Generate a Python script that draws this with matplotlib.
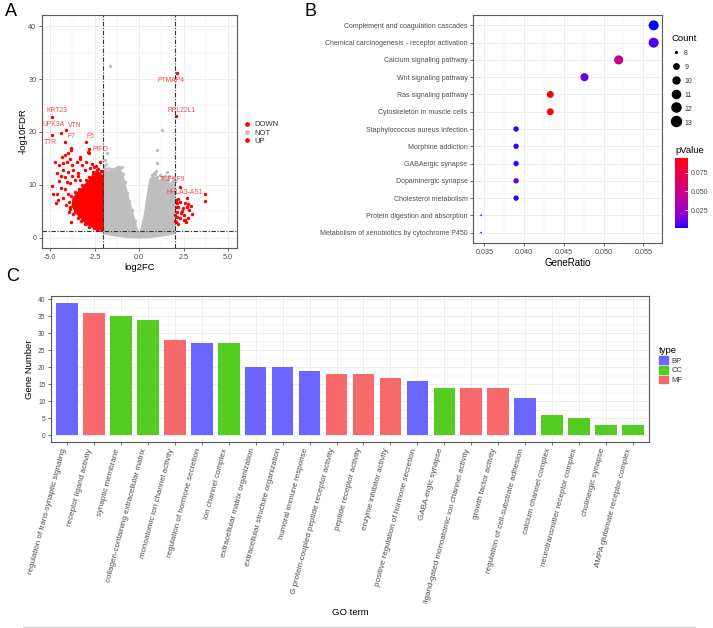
import numpy as np
import matplotlib
matplotlib.use('Agg')
import matplotlib.pyplot as plt
from matplotlib.colors import ListedColormap, Normalize
from matplotlib.lines import Line2D
from matplotlib.patches import Patch
import matplotlib as mpl

plt.rcParams['font.family'] = ['Liberation Sans', 'DejaVu Sans']

# ---------------- Panel A data (volcano) ----------------
down_x = [-4.72, -4.34, -4.16, -4.48, -4.25, -4.06, -3.88, -3.78, -3.5, -3.31, -3.22, -3.69, -3.97, -4.25,
          -4.62, -3.41, -3.03, -2.75, -2.57, -4.90, -4.81, -4.62, -4.40, -4.16, -4.53, -4.25, -3.88, -4.06,
          -4.48, -3.78, -3.60, -3.31, -4.66, -3.88, -3.92, -3.84, -3.60, -3.5, -3.60, -3.35, -3.31, -3.13,
          -2.94, -2.75, -3.13, -2.94, -2.75, -2.47, -2.29, -4.16, -4.38, -3.84, -3.84, -2.83, -3.31, -2.51,
          -2.30, -2.15, -2.85, -4.0,
          -2.1, -2.35, -2.6, -2.8, -3.0, -3.2, -3.4, -3.6, -3.8, -3.95, -3.85, -3.7, -3.45, -3.25, -3.05,
          -2.8, -2.55, -2.35, -2.15, -2.5, -2.9, -3.3, -3.6, -3.55, -4.1, -4.0, -3.45, -2.4, -2.2, -2.65, -3.0]
down_y = [14.4, 15.2, 15.7, 13.8, 14.1, 14.4, 14.8, 13.8, 14.4, 14.8, 13.8, 12.8, 12.5, 12.8,
          12.3, 12.2, 12.8, 13.1, 12.5, 9.8, 8.3, 8.3, 9.35, 9.2, 7.14, 7.46, 10.3, 10.6,
          10.8, 11.6, 10.9, 10.9, 6.5, 5.87, 4.92, 2.9, 7.77, 6.2, 4.92, 4.3, 7.14, 8.4,
          9.66, 10.6, 5.57, 3.67, 2.72, 2.08, 1.78, 11.55, 11.7, 16.9, 16.5, 16.1, 15.3, 13.4,
          13.0, 12.7, 16.2, 16.1,
          12.6, 12.8, 12.0, 11.4, 10.9, 10.0, 9.2, 8.6, 7.8, 6.8, 5.5, 4.5, 3.8, 3.1, 2.5,
          2.1, 1.8, 1.5, 1.4, 11.2, 9.8, 8.0, 6.5, 5.2, 6.2, 8.3, 11.6, 13.6, 14.3, 14.0, 14.3]
# envelope of the solid (overplotted) DOWN cloud
down_core_x = [-2.02, -2.02, -2.2, -2.45, -2.7, -2.95, -3.2, -3.45, -3.7, -3.75, -3.5, -3.2, -2.95, -2.6, -2.3]
down_core_y = [1.45, 11.6, 12.2, 12.4, 11.3, 10.3, 9.3, 8.5, 7.4, 6.0, 4.6, 3.5, 2.6, 2.0, 1.6]

up_x = [2.06, 2.30, 2.68, 2.58, 2.21, 2.46, 2.71, 2.83, 2.12, 2.34, 2.96, 2.12, 2.30, 2.58, 2.08, 2.21,
        2.40, 2.53, 2.77, 2.08, 2.15, 2.02, 2.02, 2.19, 2.77, 2.55, 3.73, 2.90, 2.62]
up_y = [7.14, 6.82, 7.46, 6.51, 5.87, 5.57, 5.87, 5.25, 4.92, 4.73, 4.49, 3.98, 3.67, 3.35, 3.03, 2.59,
        5.11, 4.3, 3.67, 5.87, 6.63, 4.3, 3.1, 7.27, 6.38, 3.35, 6.9, 6.0, 2.9]

not_core_x = [-2.0, -2.0, -1.7, -1.4, -1.15, -0.95, -0.88, -0.7, -0.5, -0.3, -0.12, 0.0, 0.12, 0.3, 0.45,
              0.62, 0.8, 1.1, 1.4, 1.7, 2.0, 2.0, 1.5, 1.0, 0.5, 0.0, -0.5, -1.0, -1.5]
not_core_y = [0.8, 12.3, 12.6, 12.4, 12.9, 12.3, 11.5, 8.8, 6.3, 3.8, 1.6, 0.7, 1.6, 4.2, 7.5,
              11.0, 11.6, 10.8, 11.0, 10.3, 10.0, 0.8, 0.45, 0.22, 0.07, 0.0, 0.07, 0.22, 0.45]
not_x = [-1.61, 1.27, 1.01, 0.99, -1.81, -1.9, -1.15, -1.05, -0.95, 1.56, 0.85, 1.2, -1.5, 1.9, 1.7,
         -1.95, -1.75, 1.45, 0.7, 0.95, -1.3, -1.85,
         -1.9, -1.6, -1.35, -1.2, -0.9, -0.8, -0.65, -0.55, -0.4, -0.25, 0.25, 0.4, 0.5, 0.6, 0.7,
         1.0, 1.3, 1.6, 1.85, 2.0, 0.9]
not_y = [32.4, 20.4, 16.6, 14.1, 16.0, 14.7, 13.3, 13.2, 13.3, 12.5, 12.2, 11.8, 13.0, 11.3, 11.7,
         13.6, 13.1, 11.6, 11.8, 12.6, 13.1, 13.9,
         12.9, 13.0, 12.9, 13.4, 12.0, 10.5, 8.5, 7.0, 5.2, 3.2, 3.5, 6.0, 8.3, 10.0, 11.3,
         11.4, 11.4, 10.9, 10.6, 10.8, 12.0]

label_genes = ['KRT23', 'UPK3A', 'TTR', 'VTN', 'F7', 'F5', 'PIFO', 'PTMAP4', 'RPL22L1', 'TNFSF9', 'HHLA3-AS1']
label_x = [-4.90, -4.40, -4.90, -4.10, -4.16, -3.00, -2.79, 2.13, 2.10, 2.30, 3.73]
label_y = [22.8, 19.8, 19.45, 20.4, 18.0, 18.0, 16.7, 31.2, 23.0, 9.66, 8.28]
label_offsets = [(3.8, 4.5), (-4.8, 5.8), (-1.2, -5.5), (6.5, 3.4), (5, 4.3), (3.6, 4.3), (7.7, 0),
                 (-4.3, -5.5), (3.4, 4.3), (-5, 4.8), (-14.9, 0.9)]
fc_cut = 2
fdr_cut = 1.301

# ---------------- Panel B data (KEGG dot plot) ----------------
pathways = ['Complement and coagulation cascades', 'Chemical carcinogenesis - receptor activation',
            'Calcium signaling pathway', 'Wnt signaling pathway', 'Ras signaling pathway',
            'Cytoskeleton in muscle cells', 'Staphylococcus aureus infection', 'Morphine addiction',
            'GABAergic synapse', 'Dopaminergic synapse', 'Cholesterol metabolism',
            'Protein digestion and absorption', 'Metabolism of xenobiotics by cytochrome P450']
gene_ratio = [0.0563, 0.0563, 0.0519, 0.0476, 0.0433, 0.0433, 0.0390, 0.0390, 0.0390, 0.0390, 0.0390, 0.0346, 0.0346]
counts = [13, 13, 12, 11, 10, 10, 9, 9, 9, 9, 9, 8, 8]
pvalues = [0.0008, 0.006, 0.046, 0.011, 0.095, 0.093, 0.003, 0.004, 0.004, 0.012, 0.004, 0.007, 0.006]

# ---------------- Panel C data (GO bar chart) ----------------
go_terms = ['regulation of trans-synaptic signaling', 'receptor ligand activity', 'synaptic membrane',
            'collagen-containing extracellular matrix', 'monoatomic ion channel activity',
            'regulation of hormone secretion', 'ion channel complex', 'extracellular matrix organization',
            'extracellular structure organization', 'humoral immune response',
            'G protein-coupled peptide receptor activity', 'peptide receptor activity',
            'enzyme inhibitor activity', 'positive regulation of hormone secretion', 'GABA-ergic synapse',
            'ligand-gated monoatomic ion channel activity', 'growth factor activity',
            'regulation of cell-substrate adhesion', 'calcium channel complex',
            'neurotransmitter receptor complex', 'cholinergic synapse', 'AMPA glutamate receptor complex']
gene_number = [39, 36, 35, 34, 28, 27, 27, 20, 20, 19, 18, 18, 17, 16, 14, 14, 14, 11, 6, 5, 3, 3]
go_type = ['BP', 'MF', 'CC', 'CC', 'MF', 'BP', 'CC', 'BP', 'BP', 'BP', 'MF', 'MF', 'MF', 'BP', 'CC',
           'MF', 'MF', 'BP', 'CC', 'CC', 'CC', 'CC']
type_levels = ['BP', 'CC', 'MF']
type_colors = {'BP': '#6B66FF', 'CC': '#55CC22', 'MF': '#F8696B'}

# ---------------- helpers ----------------
W, H = 713, 628
fig = plt.figure(figsize=(W / 100, H / 100), dpi=100)
GREY30 = '#4D4D4D'
GRID = '#EBEBEB'


def ax_px(l, t, r, b):
    return fig.add_axes([l / W, 1 - b / H, (r - l) / W, (b - t) / H])


def style_bw(ax):
    for s in ax.spines.values():
        s.set_color('#5A5A5A')
        s.set_linewidth(0.8)
    ax.tick_params(which='major', length=2.5, width=0.5, color='#333333', labelsize=5.2,
                   labelcolor=GREY30, pad=1.5)
    ax.tick_params(which='minor', length=0)
    ax.grid(True, which='major', color=GRID, lw=0.6)
    ax.grid(True, which='minor', color=GRID, lw=0.35)
    ax.set_axisbelow(True)


M = np.array([[0.4124564, 0.3575761, 0.1804375],
              [0.2126729, 0.7151522, 0.0721750],
              [0.0193339, 0.1191920, 0.9503041]])
WHITE = np.array([0.95047, 1.0, 1.08883])


def srgb_to_lab(rgb):
    rgb = np.asarray(rgb, float)
    lin = np.where(rgb <= 0.04045, rgb / 12.92, ((rgb + 0.055) / 1.055) ** 2.4)
    xyz = (M @ lin) / WHITE
    e = 216 / 24389
    k = 24389 / 27
    f = np.where(xyz > e, np.cbrt(xyz), (k * xyz + 16) / 116)
    return np.array([116 * f[1] - 16, 500 * (f[0] - f[1]), 200 * (f[1] - f[2])])


def lab_to_srgb(lab):
    L, a, b = lab
    e = 216 / 24389
    k = 24389 / 27
    fy = (L + 16) / 116
    fx = fy + a / 500
    fz = fy - b / 200
    xr = fx ** 3 if fx ** 3 > e else (116 * fx - 16) / k
    yr = fy ** 3 if L > k * e else L / k
    zr = fz ** 3 if fz ** 3 > e else (116 * fz - 16) / k
    xyz = np.array([xr, yr, zr]) * WHITE
    lin = np.clip(np.linalg.inv(M) @ xyz, 0, 1)
    rgb = np.where(lin <= 0.0031308, 12.92 * lin, 1.055 * lin ** (1 / 2.4) - 0.055)
    return np.clip(rgb, 0, 1)


lab_lo = srgb_to_lab([0, 0, 1])
lab_hi = srgb_to_lab([1, 0, 0])
cmap = ListedColormap([lab_to_srgb(lab_lo + t * (lab_hi - lab_lo)) for t in np.linspace(0, 1, 256)])

# ---------------- Panel A ----------------
axA = ax_px(42, 15, 237, 248)
style_bw(axA)
PT = 6
axA.fill(not_core_x, not_core_y, color='#BEBEBE', lw=1.2, zorder=2)
axA.scatter(not_x, not_y, s=PT, color='#BEBEBE', lw=0, zorder=2)
axA.fill(down_core_x, down_core_y, color='#FF0000', lw=1.2, zorder=3)
axA.scatter(down_x, down_y, s=PT, color='#FF0000', lw=0, zorder=3)
axA.scatter(up_x, up_y, s=PT, color='#FF0000', lw=0, zorder=3)
axA.scatter(label_x, label_y, s=PT, color='#FF0000', lw=0, zorder=3)
for g, x, y, off in zip(label_genes, label_x, label_y, label_offsets):
    axA.annotate(g, (x, y), xytext=off, textcoords='offset points', ha='center', va='center',
                 fontsize=4.9, color='#F24A4A', zorder=5)
ls = (0, (4, 1.5, 1, 1.5))
axA.axvline(-fc_cut, color='#333333', lw=0.8, ls=ls, zorder=4)
axA.axvline(fc_cut, color='#333333', lw=0.8, ls=ls, zorder=4)
axA.axhline(fdr_cut, color='#333333', lw=0.8, ls=ls, zorder=4)
axA.set_xlim(-5.45, 5.5)
axA.set_ylim(-1.95, 42.1)
axA.set_xticks([-5, -2.5, 0, 2.5, 5])
axA.set_xticklabels(['-5.0', '-2.5', '0.0', '2.5', '5.0'])
axA.set_xticks([-3.75, -1.25, 1.25, 3.75], minor=True)
axA.set_yticks([0, 10, 20, 30, 40])
axA.set_yticks([5, 15, 25, 35], minor=True)
axA.set_xlabel('log2FC', fontsize=6.8, labelpad=1.5)
axA.set_ylabel('-log10FDR', fontsize=6.8, labelpad=0.5)
legA = fig.legend(handles=[Line2D([], [], marker='o', ls='', color=c, ms=2.4) for c in ['#FF0000', '#BEBEBE', '#FF0000']],
                  labels=['DOWN', 'NOT', 'UP'], loc='center left', bbox_to_anchor=(244 / W, 1 - 133 / H),
                  frameon=False, fontsize=5.5, handlelength=0.8, handletextpad=0.6, labelspacing=0.15,
                  borderpad=0, borderaxespad=0)
for t in legA.get_texts():
    t.set_color('#333333')

# ---------------- Panel B ----------------
axB = ax_px(473, 15, 662, 243)
style_bw(axB)
n = len(pathways)
ypos = [n - 1 - i for i in range(n)]


def gg_size(c):
    return 1 + 5 * np.sqrt((c - 8) / 5)


def diam_pt(c):
    return gg_size(c) * 1.667 / 1.389


norm = Normalize(min(pvalues), max(pvalues))
axB.scatter(gene_ratio, ypos, s=[diam_pt(c) ** 2 for c in counts], c=pvalues, cmap=cmap, norm=norm,
            lw=0, zorder=3)
axB.set_xlim(0.03358, 0.05735)
axB.set_ylim(-0.6, n - 0.4)
axB.set_yticks(ypos)
axB.set_yticklabels(pathways, fontsize=5.05)
axB.set_xticks([0.035, 0.040, 0.045, 0.050, 0.055])
axB.set_xticklabels(['0.035', '0.040', '0.045', '0.050', '0.055'])
axB.set_xticks([0.0375, 0.0425, 0.0475, 0.0525], minor=True)
axB.set_xlabel('GeneRatio', fontsize=7, labelpad=2)

size_levels = [8, 9, 10, 11, 12, 13]
legB = fig.legend(handles=[Line2D([], [], marker='o', ls='', color='black', ms=diam_pt(c)) for c in size_levels],
                  labels=[str(c) for c in size_levels], title='Count', loc='upper left',
                  bbox_to_anchor=(671 / W, 1 - 34 / H), frameon=False, fontsize=5, title_fontsize=6.8,
                  handlelength=1.5, handleheight=1.5, handletextpad=0.4, labelspacing=0.78,
                  borderpad=0, borderaxespad=0, alignment='left')
for t in legB.get_texts():
    t.set_color('#333333')

fig.text(675 / W, 1 - 150 / H, 'pValue', fontsize=6.8, va='center', ha='left')
cax = ax_px(675, 158, 688, 228)
cb = mpl.colorbar.ColorbarBase(cax, cmap=cmap, norm=norm, orientation='vertical')
cb.outline.set_visible(False)
cb.set_ticks([0.025, 0.050, 0.075])
cb.set_ticklabels(['0.025', '0.050', '0.075'])
cax.tick_params(length=2.5, width=0.6, color='white', direction='in', labelsize=5, labelcolor=GREY30, pad=2)

# ---------------- Panel C ----------------
axC = ax_px(51, 296, 649, 442)
style_bw(axC)
xpos = np.arange(len(go_terms))
axC.bar(xpos, gene_number, width=0.8, color=[type_colors[t] for t in go_type], zorder=3)
axC.set_xlim(-0.6, len(go_terms) - 0.4)
axC.set_ylim(-1.95, 40.95)
axC.set_yticks(range(0, 41, 5))
axC.set_yticks(np.arange(2.5, 40, 5), minor=True)
axC.set_xticks(xpos)
axC.set_xticklabels(go_terms, rotation=75, ha='right', va='top', fontsize=5.8)
axC.tick_params(axis='y', labelsize=4.8)
axC.set_xlabel('GO term', fontsize=6.8, labelpad=3)
axC.set_ylabel('Gene Number', fontsize=6.8, labelpad=3)
legC = fig.legend(handles=[Patch(color=type_colors[t]) for t in type_levels], labels=type_levels,
                  title='type', loc='upper left', bbox_to_anchor=(659 / W, 1 - 346 / H), frameon=False,
                  fontsize=5.5, title_fontsize=6.8, handlelength=1.18, handleheight=1.18, handletextpad=0.5,
                  labelspacing=0.16, borderpad=0, borderaxespad=0, alignment='left')
for t in legC.get_texts():
    t.set_color('#333333')

fig.add_artist(Line2D([23 / W, 695 / W], [1 - 626.5 / H] * 2, color='#D6D6D6', lw=0.8))

# panel letters
fig.text(5 / W, 1 - 3 / H, 'A', fontsize=13, va='top', ha='left')
fig.text(305 / W, 1 - 3 / H, 'B', fontsize=13, va='top', ha='left')
fig.text(6 / W, 1 - 268 / H, 'C', fontsize=13, va='top', ha='left')

fig.savefig('out.png', dpi=100)
